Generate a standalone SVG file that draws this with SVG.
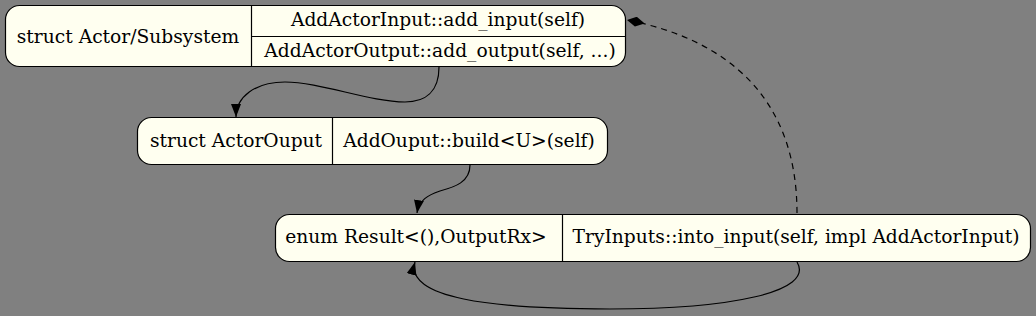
<svg xmlns="http://www.w3.org/2000/svg" width="1036" height="316" viewBox="0 0 1036 316">
<style>
.n{fill:#fffff0;stroke:#000;stroke-width:1.2}
.d{stroke:#000;stroke-width:1.2;fill:none}
.e{fill:none;stroke:#000;stroke-width:1.2}
.t{font-family:'DejaVu Serif','Liberation Serif',serif;font-size:18.67px;text-anchor:middle;fill:#000}
</style>
<defs>
<marker id="arr" markerWidth="13" markerHeight="10" refX="13" refY="5" orient="auto" markerUnits="userSpaceOnUse" viewBox="0 0 13 10">
<path d="M0,0 L13,5 L0,10 Z" fill="#000"/>
</marker>
<marker id="dia" markerWidth="18" markerHeight="10" refX="18" refY="5" orient="auto" markerUnits="userSpaceOnUse" viewBox="0 0 18 10">
<path d="M0,5 L9,0 L18,5 L9,10 Z" fill="#000"/>
</marker>
</defs>
<rect width="1036" height="316" fill="#808080"/>
<g id="node1">
<rect class="n" x="5.5" y="5.5" width="620" height="61" rx="14"/>
<path class="d" d="M251.5,5.5 V66.5 M251.5,36.5 H625.5"/>
<text class="t" x="128" y="43">struct Actor/Subsystem</text>
<text class="t" x="438" y="26">AddActorInput::add_input(self)</text>
<text class="t" x="440" y="57">AddActorOutput::add_output(self, ...)</text>
</g>
<g id="node2">
<rect class="n" x="137.5" y="117.5" width="470" height="47" rx="14"/>
<path class="d" d="M332.5,117.5 V164.5"/>
<text class="t" x="236" y="147">struct ActorOuput</text>
<text class="t" x="469" y="147">AddOuput::build&lt;U&gt;(self)</text>
</g>
<g id="node3">
<rect class="n" x="275.5" y="214.5" width="755" height="47" rx="14"/>
<path class="d" d="M562.5,214.5 V261.5"/>
<text class="t" x="416" y="243">enum Result&lt;(),OutputRx&gt;</text>
<text class="t" x="796" y="243">TryInputs::into_input(self, impl AddActorInput)</text>
</g>
<g id="edges">
<path class="e" d="M439,67 C439,92 425,102 405,102 C370,102 320,82 285,82 C255,82 236,97 236,117" marker-end="url(#arr)"/>
<path class="e" d="M470,165 C470,182 455,187 440,191 C428,195 419,200 417,213" marker-end="url(#arr)"/>
<path class="e" d="M797,262 C815,292 730,309 610,309 C490,309 405,298 415,262" marker-end="url(#arr)"/>
<path class="e" stroke-dasharray="6,5" d="M797,213 C797,100 730,40 627,20" marker-end="url(#dia)"/>
</g>
</svg>
